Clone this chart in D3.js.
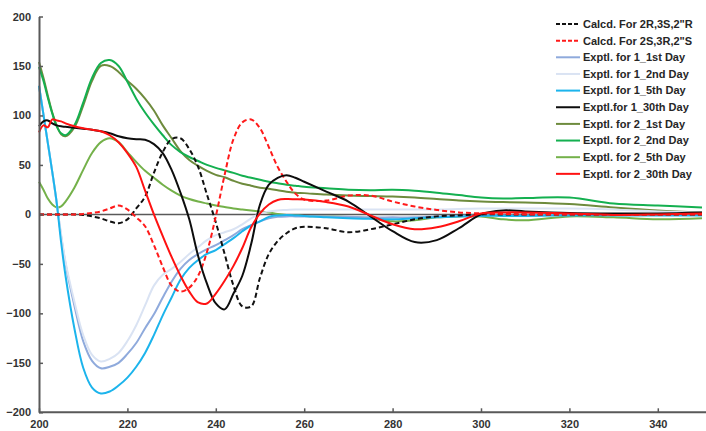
<!DOCTYPE html>
<html>
<head>
<meta charset="utf-8">
<script src="https://cdn.jsdelivr.net/npm/d3@7/dist/d3.min.js"></script>
<style>
  html, body { margin: 0; padding: 0; background: #fff; }
  svg { display: block; }
  .tick text { font-family: "Liberation Sans", Arial, sans-serif; font-weight: bold; font-size: 11px; fill: #333; }
  .legend text { font-family: "Liberation Sans", Arial, sans-serif; font-weight: bold; font-size: 11px; fill: #262626; }
</style>
</head>
<body>
<svg id="chart" width="706" height="431"></svg>
<script>
// Wavelength grid (nm) shared by all CD spectra
const wavelengths = [200, 201, 202, 203, 204, 205, 206, 208, 210, 212, 214, 216, 218, 220, 222, 224, 226, 228, 230, 232, 234, 236, 238, 240, 242, 244, 246, 248, 250, 252, 254, 256, 258, 260, 265, 270, 275, 280, 285, 290, 295, 300, 305, 310, 320, 330, 340, 350];

// Calculated ECD spectra
const calc2R3S2R = [0, 0, 0, 0, 0, 0, 0, 0, -0.5, -2, -4, -7, -9, -5, 6, 18, 42, 63, 76, 77, 66, 48, 20, -8, -40, -72, -93, -93, -64, -40, -27, -19, -14, -12.5, -14, -18, -15, -10, -5, -2, -1, 0, 0, 0, 0, 0, 0, 0];
const calc2S3R2S = [0, 0, 0, 0, 0, 0, 0, 0, 0.5, 1.5, 3, 6, 9, 5, -3, -12, -31, -53, -72, -78, -74, -62, -38, -2, 40, 76, 93, 96, 87, 68, 48, 33, 21, 15, 14, 19, 19, 13, 8, 4.5, 2, 1, 0.5, 0, 0, 0, 0, 0];

// Experimental spectra, compound 1
const exp1Day1 = [130, 101, 72, 43, 12, -22, -50, -92, -128, -148, -155.5, -154, -150, -141, -130, -115, -101, -84, -68, -55, -46, -40, -35, -31, -26, -21, -15, -11, -7, -4, -2.5, -2, -2, -2, -2, -2.5, -3, -3, -3, -2, -1.5, -1, -1, -1, -0.5, -0.5, 0, 0];
const exp1Day2 = [130, 101, 72, 43, 12, -20, -48, -88, -122, -142, -148.7, -146, -140, -128, -112, -92, -72, -61, -55, -48, -40, -33, -26, -21, -18, -15, -10, -4, 1, 3, 4, 4.5, 5, 5, 5, 5, 5, 5, 5, 5, 5.5, 6, 6, 6, 6, 5, 3, 2];
const exp1Day5 = [130, 101, 72, 43, 12, -28, -62, -115, -155, -175, -181, -179, -173, -165, -154, -140, -122, -102, -84, -66, -54, -46, -40, -36, -30, -24, -17, -11, -7, -2.5, -1, -0.5, -1, -1.5, -3, -4, -4.5, -5, -4, -3, -2, -1.5, -1.5, -1.5, -1, -1, -1, -1];
const exp1Day30 = [89, 94, 95, 92, 90, 89, 88.5, 87.5, 86.5, 85.5, 84, 82, 79, 77, 76, 75.5, 71, 62, 45, 22, -5, -42, -70, -90, -96, -80, -62, -30, 10, 30, 37, 39.5, 37, 33, 23, 13, -2, -17, -28, -26, -14, 0, 4, 3, 1.5, 1, 1, 2];

// Experimental spectra, compound 2
const exp2Day1 = [154, 138, 120, 103, 90, 81, 79, 88, 110, 135, 150, 150, 144, 135, 127, 117, 105, 90, 77, 64, 55, 49, 44, 40, 37.5, 34, 31, 29, 27, 26, 24.5, 23, 22, 21.5, 20, 19, 18.5, 18, 17, 15.5, 14, 13, 12.5, 12, 10.5, 7, 4, 2];
const exp2Day2 = [149, 135, 118, 102, 89, 82, 80, 90, 113, 138, 153, 156, 150, 134, 117, 103, 91, 80, 70, 63, 58, 54, 50, 47, 44.5, 42, 39, 37, 35, 33, 31.5, 30, 29, 28, 26.5, 25, 24.5, 25, 24, 22, 19.5, 17, 16, 16.5, 17, 11, 9, 7];
const exp2Day5 = [33, 25, 16, 10, 7, 8, 13, 27, 45, 62, 73, 77, 73, 63, 53, 44, 37, 30, 24, 19, 15.5, 13, 11, 9, 7.5, 6, 5, 4, 3, 2, 0.5, -0.5, -1, -1.5, -2, -2.5, -4, -7, -6, -3, -2, -2, -5, -6, -2, -3, -5, -4];
const exp2Day30 = [83, 90, 88, 96, 95, 94, 92, 89, 87, 85.5, 84, 80, 73, 62, 48, 24, 0, -22, -43, -62, -78, -89, -90, -80, -67, -52, -34, -13, 1, 10, 14.6, 15.5, 15.3, 15, 12.5, 8, -1, -10, -15, -13, -7, 1, 2, 2, 1, -0.5, 0, 1];

// Axis ticks
const xTicks = [200, 220, 240, 260, 280, 300, 320, 340];
const yTicks = [200, 150, 100, 50, 0, -50, -100, -150, -200];

const seriesNames = [
  'Calcd. For 2R,3S,2"R', 'Calcd. For 2S,3R,2"S',
  'Exptl. for 1_1st Day', 'Exptl. for 1_2nd Day', 'Exptl. for 1_5th Day', 'Exptl.for 1_30th Day',
  'Exptl. for 2_1st Day', 'Exptl. for 2_2nd Day', 'Exptl. for 2_5th Day', 'Exptl. for 2_30th Day'
];
const seriesValues = [calc2R3S2R, calc2S3R2S, exp1Day1, exp1Day2, exp1Day5, exp1Day30, exp2Day1, exp2Day2, exp2Day5, exp2Day30];
const seriesColors = ["#111111", "#ff1a1a", "#8faadc", "#dae3f3", "#1cb4ec", "#0d0d0d", "#6e8b3d", "#14b050", "#74b14a", "#ff1111"];
const seriesDashed = [true, true, false, false, false, false, false, false, false, false];

const svg = d3.select("#chart");
const x = d3.scaleLinear().domain([200, 350]).range([39, 702]);
const y = d3.scaleLinear().domain([-200, 200]).range([412.3, 16.5]);

// Zero baseline
svg.append("line")
  .attr("x1", x(200)).attr("x2", x(350))
  .attr("y1", y(0)).attr("y2", y(0))
  .attr("stroke", "#595959").attr("stroke-width", 1.5);

// Spectra
const line = d3.line()
  .x((d, i) => x(wavelengths[i]))
  .y(d => y(d))
  .curve(d3.curveCatmullRom.alpha(0.5));

const drawOrder = [6, 7, 8, 2, 3, 4, 0, 1, 5, 9];
drawOrder.forEach(k => {
  svg.append("path")
    .datum(seriesValues[k])
    .attr("d", line)
    .attr("fill", "none")
    .attr("stroke", seriesColors[k])
    .attr("stroke-width", 2)
    .attr("stroke-dasharray", seriesDashed[k] ? "5,3" : null)
    .attr("stroke-linejoin", "round");
});

// Axes
const xAxis = svg.append("g")
  .attr("transform", `translate(0,${y(-200)})`)
  .call(d3.axisBottom(x).tickValues(xTicks).tickSizeInner(-4).tickSizeOuter(0).tickPadding(8));
const yAxis = svg.append("g")
  .attr("transform", `translate(${x(200)},0)`)
  .call(d3.axisLeft(y).tickValues(yTicks).tickSizeInner(-4).tickSizeOuter(0).tickPadding(8));
[xAxis, yAxis].forEach(g => {
  g.select(".domain").attr("stroke", "#595959").attr("stroke-width", 2);
  g.selectAll(".tick line").attr("stroke", "#595959").attr("stroke-width", 1.5);
});
xAxis.select(".domain").attr("d", `M${x(200)},0H706`);

// Legend
const legend = svg.append("g").attr("class", "legend");
seriesNames.forEach((name, i) => {
  const cy = 24 + i * 16.65;
  legend.append("line")
    .attr("x1", 556).attr("x2", 580).attr("y1", cy).attr("y2", cy)
    .attr("stroke", seriesColors[i]).attr("stroke-width", 2)
    .attr("stroke-dasharray", seriesDashed[i] ? "4,2" : null);
  legend.append("text")
    .attr("x", 583).attr("y", cy).attr("dy", "0.35em")
    .text(name);
});
</script>
</body>
</html>
